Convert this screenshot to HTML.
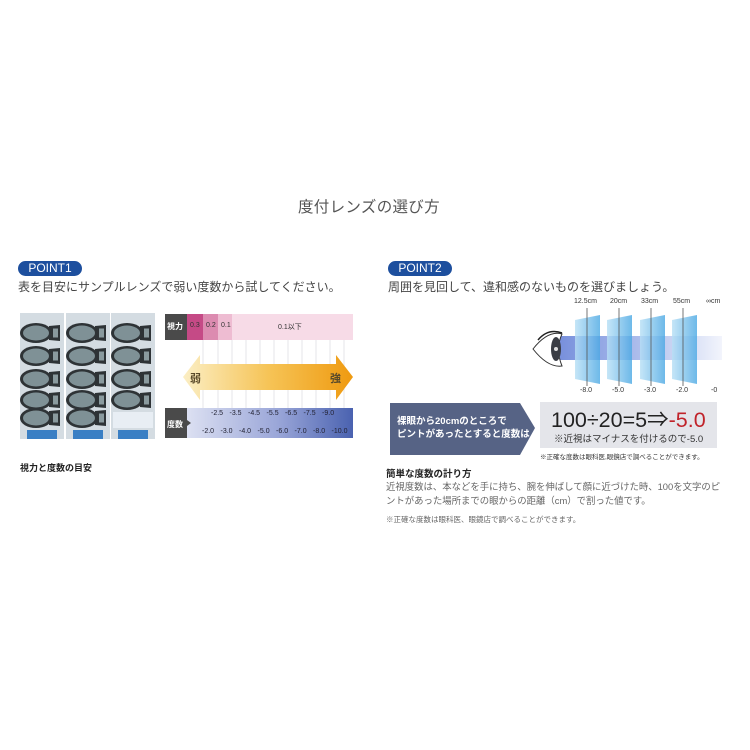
<!DOCTYPE html>
<html><head><meta charset="utf-8"><style>
body{margin:0;width:750px;height:750px;background:#fff;position:relative;overflow:hidden;font-family:"Liberation Sans","Noto Sans CJK JP",sans-serif;}
.a{position:absolute;white-space:nowrap;}
.pill{position:absolute;background:#1d4f9e;color:#fff;border-radius:8px;font-size:12px;line-height:15px;text-align:center;width:64px;height:15px;}
</style></head><body>
<div class="a" style="left:298px;top:195px;font-size:15.5px;color:#555;letter-spacing:0.3px">度付レンズの選び方</div>

<div class="pill" style="left:18px;top:261px">POINT1</div>
<div class="a" style="left:18px;top:278px;font-size:12px;color:#444">表を目安にサンプルレンズで弱い度数から試してください。</div>
<div class="pill" style="left:388px;top:261px">POINT2</div>
<div class="a" style="left:388px;top:278px;font-size:12px;color:#444">周囲を見回して、違和感のないものを選びましょう。</div>

<svg class="a" style="left:0;top:0" width="750" height="750">
<defs>
<linearGradient id="og" x1="0" x2="1"><stop offset="0" stop-color="#fbeec4"/><stop offset="0.5" stop-color="#f6c457"/><stop offset="1" stop-color="#ef9a10"/></linearGradient>
<linearGradient id="bg" x1="0" x2="1"><stop offset="0" stop-color="#eceef8"/><stop offset="0.6" stop-color="#9aa6d8"/><stop offset="1" stop-color="#4a62b0"/></linearGradient>
<linearGradient id="pg" x1="0" x2="1"><stop offset="0" stop-color="#b8e0f6"/><stop offset="1" stop-color="#4aa8e4"/></linearGradient>
<linearGradient id="band" x1="0" x2="1"><stop offset="0" stop-color="#7890dc"/><stop offset="0.5" stop-color="#aebeec"/><stop offset="1" stop-color="#f2f4fc"/></linearGradient>
<g id="gog"><ellipse cx="0" cy="0" rx="16" ry="10" fill="#2e3336"/><ellipse cx="0" cy="0" rx="13" ry="7.5" fill="#7f9196"/><path d="M13 -7 L24 -8 L24 8 L13 7 Z" fill="#2e3336"/><rect x="17" y="-4.5" width="5" height="9" fill="#8a9a9e"/></g>
</defs>
<g>
<rect x="20" y="313" width="44" height="126" fill="#d4dce2"/>
<rect x="66" y="313" width="44" height="126" fill="#d4dce2"/>
<rect x="111" y="313" width="44" height="126" fill="#d4dce2"/>
<g fill="#3a7fc4"><rect x="27" y="430" width="30" height="9"/><rect x="73" y="430" width="30" height="9"/><rect x="118" y="430" width="30" height="9"/></g>
<use href="#gog" x="36" y="333"/><use href="#gog" x="36" y="356"/><use href="#gog" x="36" y="379"/><use href="#gog" x="36" y="400"/><use href="#gog" x="36" y="418"/>
<use href="#gog" x="82" y="333"/><use href="#gog" x="82" y="356"/><use href="#gog" x="82" y="379"/><use href="#gog" x="82" y="400"/><use href="#gog" x="82" y="418"/>
<use href="#gog" x="127" y="333"/><use href="#gog" x="127" y="356"/><use href="#gog" x="127" y="379"/><use href="#gog" x="127" y="400"/>
<rect x="113" y="412" width="40" height="16" fill="#e8eef4"/>
</g>
<rect x="165" y="314" width="188" height="26" fill="#f7dbe7"/>
<rect x="165" y="314" width="22" height="26" fill="#4a4a4a"/>
<rect x="187" y="314" width="16" height="26" fill="#c54a86"/>
<rect x="203" y="314" width="15" height="26" fill="#dc8bb0"/>
<rect x="218" y="314" width="14" height="26" fill="#eebcd2"/>
<g stroke="#e4e4e8" stroke-width="1">
<path d="M203 340V408M218 340V408M232 340V408M246 340V408M260 340V408M274 340V408M288 340V408M302 340V408M316 340V408M330 340V408M344 340V408"/>
</g>
<path d="M183 377 L200 355 L200 364 L336 364 L336 355 L353 377 L336 400 L336 390 L200 390 L200 400 Z" fill="url(#og)"/>
<rect x="165" y="408" width="188" height="30" fill="url(#bg)"/>
<rect x="165" y="408" width="22" height="30" fill="#4a4a4a"/>
<path d="M187 420 L191 423 L187 426Z" fill="#4a4a4a"/>
<rect x="560" y="336" width="162" height="24" fill="url(#band)"/>
<g fill="url(#pg)" opacity="0.8">
<path d="M575 320 L600 315 L600 384 L575 379Z"/>
<path d="M607 320 L632 315 L632 384 L607 379Z"/>
<path d="M640 320 L665 315 L665 384 L640 379Z"/>
<path d="M672 320 L697 315 L697 384 L672 379Z"/>
</g>
<g stroke="#555" stroke-width="0.8"><path d="M587 308V386M619 308V386M651 308V386M683 308V386"/></g>
<path d="M533 349 Q548 330 562 334 Q555 349 562 366 Q548 368 533 349Z" fill="#fff" stroke="#333" stroke-width="1"/>
<ellipse cx="556" cy="349" rx="5" ry="12" fill="#3a3d44"/>
<circle cx="556" cy="349" r="2" fill="#ddd"/>
<path d="M538 340 Q548 328 562 333" stroke="#222" stroke-width="1.5" fill="none"/>
<path d="M390 403 L520 403 L535 428 L520 455 L390 455Z" fill="#566385"/>
<rect x="540" y="402" width="177" height="46" fill="#e4e5ea"/>
</svg>

<div class="a" style="left:167px;top:321px;font-size:8px;color:#fff;font-weight:bold">視力</div>
<div class="a" style="left:190px;top:322px;font-size:7px;color:#333">0.3</div>
<div class="a" style="left:206px;top:322px;font-size:7px;color:#333">0.2</div>
<div class="a" style="left:221px;top:322px;font-size:7px;color:#333">0.1</div>
<div class="a" style="left:278px;top:322px;font-size:7px;color:#333">0.1以下</div>
<div class="a" style="left:190px;top:370px;font-size:11px;color:#5a4a2a;font-weight:bold">弱</div>
<div class="a" style="left:330px;top:370px;font-size:11px;color:#5a4a2a;font-weight:bold">強</div>
<div class="a" style="left:167px;top:419px;font-size:8px;color:#fff;font-weight:bold">度数</div>
<div class="a" style="left:211px;top:410px;font-size:7px;color:#223;word-spacing:4.5px">-2.5 -3.5 -4.5 -5.5 -6.5 -7.5 -9.0</div>
<div class="a" style="left:202px;top:428px;font-size:7px;color:#223;word-spacing:4.5px">-2.0 -3.0 -4.0 -5.0 -6.0 -7.0 -8.0 -10.0</div>
<div class="a" style="left:20px;top:461px;font-size:9px;color:#222;font-weight:bold">視力と度数の目安</div>

<div class="a" style="left:574px;top:298px;font-size:7px;color:#333">12.5cm</div>
<div class="a" style="left:610px;top:298px;font-size:7px;color:#333">20cm</div>
<div class="a" style="left:641px;top:298px;font-size:7px;color:#333">33cm</div>
<div class="a" style="left:673px;top:298px;font-size:7px;color:#333">55cm</div>
<div class="a" style="left:706px;top:298px;font-size:7px;color:#333">∞cm</div>
<div class="a" style="left:580px;top:387px;font-size:7px;color:#333">-8.0</div>
<div class="a" style="left:612px;top:387px;font-size:7px;color:#333">-5.0</div>
<div class="a" style="left:644px;top:387px;font-size:7px;color:#333">-3.0</div>
<div class="a" style="left:676px;top:387px;font-size:7px;color:#333">-2.0</div>
<div class="a" style="left:711px;top:387px;font-size:7px;color:#333">-0</div>

<div class="a" style="left:397px;top:415px;font-size:9.5px;line-height:13px;color:#fff;font-weight:bold">裸眼から20cmのところで<br>ピントがあったとすると度数は</div>
<div class="a" style="left:551px;top:403px;font-size:21.5px;color:#222">100÷20=5⇒<span style="color:#c0232a">-5.0</span></div>
<div class="a" style="left:554px;top:431px;font-size:9.5px;color:#333">※近視はマイナスを付けるので-5.0</div>
<div class="a" style="left:540px;top:451px;font-size:6.5px;color:#333">※正確な度数は眼科医,眼鏡店で調べることができます。</div>

<div class="a" style="left:386px;top:466px;font-size:9.5px;color:#222;font-weight:bold">簡単な度数の計り方</div>
<div class="a" style="left:386px;top:480px;font-size:9.4px;line-height:14px;color:#666">近視度数は、本などを手に持ち、腕を伸ばして顔に近づけた時、100を文字のピ<br>ントがあった場所までの眼からの距離（cm）で割った値です。</div>
<div class="a" style="left:386px;top:514px;font-size:7.5px;color:#666">※正確な度数は眼科医、眼鏡店で調べることができます。</div>
</body></html>
